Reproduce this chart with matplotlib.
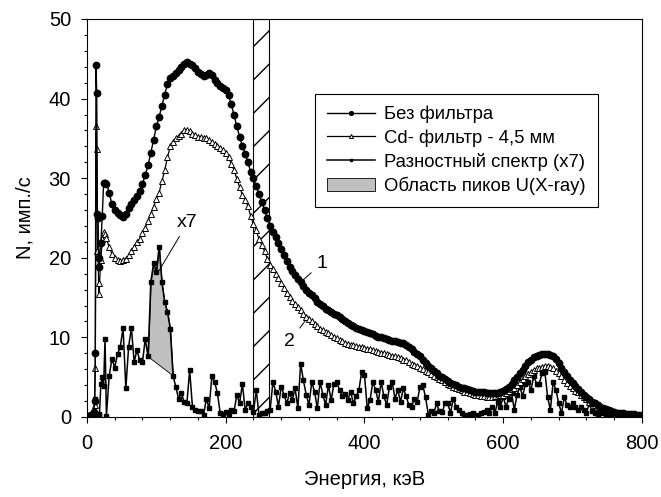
import matplotlib
matplotlib.use('Agg')
import matplotlib.pyplot as plt
import numpy as np
from matplotlib.ticker import MultipleLocator

plt.rcParams['font.family'] = ['Liberation Sans', 'DejaVu Sans']

# energy channels, keV (fine step at the low-energy spike, 4 keV after)
energy = np.array([0, 2, 4, 6, 8, 10, 11, 12, 13, 14, 15, 16, 17, 18, 20, 22, 24, 26]
                  + list(range(28, 801, 4)), dtype=float)

# curve 1 - no filter
no_filter = np.array([
    0.1, 0.1, 0.1, 0.2, 0.3, 0.6, 2.0, 8.0, 44.2, 40.7, 25.5, 25.0, 18.9, 20.0, 21.8, 25.2, 29.4, 29.4,
    29.3, 28.2, 26.7, 26.0, 25.6, 25.4, 25.1, 25.5, 26.2, 26.8,   # 28-64
    27.3, 27.8, 28.4, 29.3, 30.4, 31.6, 33.2, 34.8, 36.5, 37.7,   # 68-104
    39.1, 40.5, 41.8, 42.6, 42.9, 43.2, 43.6, 44.0, 44.3, 44.6,   # 108-144
    44.4, 44.2, 43.8, 43.4, 43.1, 42.9, 43.0, 43.2, 43.0, 42.3,   # 148-184
    42.0, 41.6, 41.3, 41.1, 40.4, 39.3, 37.9, 36.5, 35.2, 34.1,   # 188-224
    33.1, 32.0, 30.8, 30.0, 29.0, 28.0, 27.0, 26.0, 25.0, 24.0,   # 228-264
    23.3, 22.6, 21.8, 21.1, 20.3, 19.6, 18.9, 18.4, 17.8, 17.3,   # 268-304
    16.9, 16.4, 16.0, 15.6, 15.3, 14.9, 14.5, 14.2, 13.9, 13.6,   # 308-344
    13.4, 13.2, 13.0, 12.8, 12.6, 12.3, 12.1, 11.8, 11.6, 11.4,   # 348-384
    11.2, 11.0, 10.9, 10.8, 10.7, 10.5, 10.4, 10.2, 10.1, 10.0,   # 388-424
    9.9, 9.8, 9.7, 9.6, 9.5, 9.4, 9.3, 9.3, 9.0, 8.8,             # 428-464
    8.5, 8.2, 7.9, 7.6, 7.2, 6.8, 6.4, 6.1, 5.8, 5.5,             # 468-504
    5.2, 5.0, 4.8, 4.5, 4.3, 4.2, 4.0, 3.8, 3.7, 3.6,             # 508-544
    3.5, 3.4, 3.3, 3.2, 3.2, 3.1, 3.1, 3.0, 3.0, 3.0,             # 548-584
    3.0, 3.0, 3.1, 3.3, 3.5, 3.8, 4.2, 4.6, 5.0, 5.5,             # 588-624
    5.9, 6.4, 6.9, 7.2, 7.5, 7.7, 7.8, 7.9, 7.9, 7.9,             # 628-664
    7.8, 7.7, 7.3, 6.8, 6.2, 5.6, 5.1, 4.7, 4.3, 3.9,             # 668-704
    3.5, 3.1, 2.8, 2.5, 2.2, 1.9, 1.7, 1.5, 1.3, 1.1,             # 708-744
    1.0, 0.9, 0.8, 0.65, 0.55, 0.5, 0.45, 0.4, 0.4, 0.35,         # 748-784
    0.35, 0.3, 0.3, 0.3,                                          # 788-800
])

# curve 2 - Cd filter 4.5 mm
cd_filter = np.array([
    0.1, 0.1, 0.1, 0.1, 0.2, 0.4, 1.5, 6.1, 36.5, 33.7, 20.8, 20.3, 15.5, 16.8, 19.7, 22.3, 23.2, 23.0,
    22.5, 21.3, 20.5, 20.0, 19.7, 19.6, 19.7, 19.9, 20.3, 20.8,   # 28-64
    21.4, 22.0, 22.4, 23.1, 23.8, 24.6, 25.5, 26.4, 27.4, 28.2,   # 68-104
    29.6, 31.0, 32.6, 34.0, 34.6, 35.0, 35.3, 35.6, 36.0, 36.1,   # 108-144
    35.9, 35.6, 35.4, 35.2, 35.2, 35.1, 35.0, 34.8, 34.5, 34.3,   # 148-184
    34.1, 33.8, 33.5, 33.2, 32.6, 31.8, 31.0, 29.9, 28.9, 27.9,   # 188-224
    27.2, 26.5, 25.2, 24.2, 23.5, 22.3, 21.6, 20.8, 19.9, 19.1,   # 228-264
    18.6, 18.0, 17.4, 16.8, 16.2, 15.6, 15.1, 14.6, 14.2, 13.8,   # 268-304
    13.4, 13.0, 12.6, 12.3, 12.0, 11.7, 11.4, 11.1, 10.9, 10.7,   # 308-344
    10.5, 10.3, 10.1, 9.9, 9.7, 9.5, 9.3, 9.2, 9.1, 9.0,          # 348-384
    8.9, 8.8, 8.8, 8.7, 8.6, 8.5, 8.4, 8.3, 8.2, 8.1,             # 388-424
    8.0, 7.9, 7.8, 7.7, 7.6, 7.5, 7.4, 7.2, 7.1, 6.9,             # 428-464
    6.7, 6.5, 6.4, 6.2, 6.0, 5.8, 5.6, 5.4, 5.2, 5.0,             # 468-504
    4.8, 4.6, 4.4, 4.2, 4.0, 3.8, 3.7, 3.5, 3.4, 3.2,             # 508-544
    3.1, 3.0, 2.9, 2.8, 2.7, 2.6, 2.6, 2.55, 2.5, 2.5,            # 548-584
    2.6, 2.6, 2.7, 2.8, 3.0, 3.3, 3.5, 3.7, 4.0, 4.4,             # 588-624
    4.8, 5.1, 5.4, 5.7, 5.9, 6.1, 6.2, 6.3, 6.4, 6.4,             # 628-664
    6.3, 6.1, 5.8, 5.5, 5.1, 4.7, 4.3, 3.9, 3.6, 3.3,             # 668-704
    3.1, 2.8, 2.5, 2.2, 1.9, 1.7, 1.5, 1.3, 1.15, 1.0,            # 708-744
    0.9, 0.8, 0.7, 0.6, 0.55, 0.5, 0.45, 0.4, 0.35, 0.35,         # 748-784
    0.3, 0.3, 0.3, 0.3,                                           # 788-800
])

# difference spectrum, multiplied by 7
diff_x7 = np.array([
    0.0, 0.0, 0.1, 0.1, 0.2, 0.3, 0.2, 2.3, 0.1, 0.1, 0.2, 0.3, 0.2, 0.4, 4.1, 5.0, 3.9, 9.8,
    0.1, 5.2, 7.3, 6.2, 7.9, 8.8, 11.2, 3.6, 8.8, 11.2,           # 28-64
    6.9, 8.4, 7.1, 6.9, 9.8, 7.6, 17.0, 19.3, 18.2, 21.4,         # 68-104
    16.9, 14.4, 13.2, 11.1, 5.2, 3.8, 2.3, 3.0, 1.9, 1.7,         # 108-144
    5.9, 1.3, 0.9, 0.7, 0.7, 0.2, 2.3, 1.1, 5.1, 4.4,             # 148-184
    3.0, 0.5, 0.4, 0.6, 0.4, 0.9, 0.7, 2.8, 1.7, 4.2,             # 188-224
    0.9, 1.7, 1.3, 0.6, 3.4, 0.2, 0.5, 0.5, 0.7, 0.9,             # 228-264
    4.4, 3.2, 1.3, 3.8, 2.8, 1.7, 3.0, 2.1, 3.6, 1.1,             # 268-304
    6.7, 4.6, 2.8, 1.5, 4.4, 3.2, 1.1, 4.4, 2.8, 1.5,             # 308-344
    4.0, 2.1, 4.2, 4.4, 3.4, 2.6, 2.9, 2.1, 3.2, 1.7,             # 348-384
    2.6, 3.4, 5.7, 5.3, 1.1, 2.1, 4.4, 3.4, 1.9, 4.4,             # 388-424
    2.6, 1.5, 3.8, 4.4, 2.3, 3.4, 1.9, 3.6, 2.6, 1.5,             # 428-464
    1.3, 2.3, 1.9, 3.8, 4.0, 2.5, 0.3, 0.7, 0.5, 1.7,             # 468-504
    0.7, 0.6, 1.7, 1.7, 0.5, 2.3, 1.3, 0.9, 0.5, 0.3,             # 508-544
    0.2, 0.4, 0.5, 0.3, 0.3, 0.5, 0.6, 0.9, 0.5, 1.3,             # 548-584
    0.5, 1.9, 1.3, 2.5, 1.3, 2.3, 3.0, 0.9, 2.8, 3.8,             # 588-624
    2.6, 4.2, 4.4, 3.4, 5.1, 4.2, 4.2, 5.5, 5.7, 2.5,             # 628-664
    0.9, 4.4, 3.4, 1.7, 0.5, 2.5, 1.5, 1.3, 1.7, 1.3,             # 668-704
    0.9, 1.3, 0.9, 0.5, 1.7, 0.7, 0.5, 0.3, 0.9, 0.5,             # 708-744
    0.3, 0.2, 0.1, 0.05, 0.0, 0.0, 0.0, 0.0, 0.0, 0.0,            # 748-784
    0.0, 0.0, 0.0, 0.0,                                           # 788-800
])

band_lo, band_hi = 240, 262      # hatched zone, keV
peak_lo, peak_hi = 88, 124       # U X-ray peak area, keV

fig = plt.figure(figsize=(6.61, 4.97), dpi=100)
ax = fig.add_axes([0.1316, 0.161, 0.8396, 0.8008])

ax.axvspan(band_lo, band_hi, facecolor='none', edgecolor='black', hatch='/', lw=0.8, zorder=1)

ax.plot(energy, no_filter, '-o', color='black', ms=4.6, lw=1.0, label='Без фильтра', zorder=5)
ax.plot(energy, cd_filter, '-^', color='black', mfc='white', mec='black', mew=0.7, ms=4.8,
        lw=0.9, label='Cd- фильтр - 4,5 мм', zorder=4)
ax.plot(energy, diff_x7, '-s', color='black', ms=3.4, lw=1.1, label='Разностный спектр (x7)', zorder=3)

# shaded peak area between the difference curve and a straight baseline
m = (energy >= peak_lo) & (energy <= peak_hi)
base = np.interp(energy[m], [peak_lo, peak_hi],
                 [np.interp(peak_lo, energy, diff_x7), np.interp(peak_hi, energy, diff_x7)])
ax.fill_between(energy[m], diff_x7[m], base, facecolor='#c0c0c0', edgecolor='black', lw=0.6,
                label='Область пиков U(X-ray)', zorder=2)

ax.set_xlim(0, 800)
ax.set_ylim(0, 50)
ax.set_xticks(range(0, 801, 200))
ax.set_yticks(range(0, 51, 10))
ax.xaxis.set_minor_locator(MultipleLocator(40))
ax.yaxis.set_minor_locator(MultipleLocator(2))
ax.tick_params(which='both', direction='out', top=False, right=False, width=0.8)
ax.tick_params(which='major', length=4.5, labelsize=14.5)
ax.tick_params(which='minor', length=2.3)
ax.tick_params(axis='x', pad=8)
ax.tick_params(axis='y', pad=7)
for s in ax.spines.values():
    s.set_linewidth(0.8)

ax.set_xlabel('Энергия, кэВ', fontsize=14.5, labelpad=12)
ax.set_ylabel('N, имп./с', fontsize=14.5, labelpad=10)

leg = ax.legend(loc='upper left', bbox_to_anchor=(0.411, 0.812), fontsize=13.3, fancybox=False,
                edgecolor='black', framealpha=1, borderaxespad=0, numpoints=1, markerscale=0.6,
                handlelength=2.6, handletextpad=0.5, labelspacing=0.32, borderpad=0.65)
leg.get_frame().set_linewidth(0.8)

arrow = dict(arrowstyle='-', lw=0.7, color='black', shrinkA=2, shrinkB=0)
ax.annotate('x7', xy=(104, 18.4), xytext=(145, 24.4), ha='center', va='center', fontsize=14, arrowprops=arrow)
ax.annotate('1', xy=(309, 17.0), xytext=(338, 19.3), ha='center', va='center', fontsize=14, arrowprops=arrow)
ax.annotate('2', xy=(319, 12.6), xytext=(292.5, 9.5), ha='center', va='center', fontsize=14, arrowprops=arrow)

fig.savefig('out.png', dpi=100)
